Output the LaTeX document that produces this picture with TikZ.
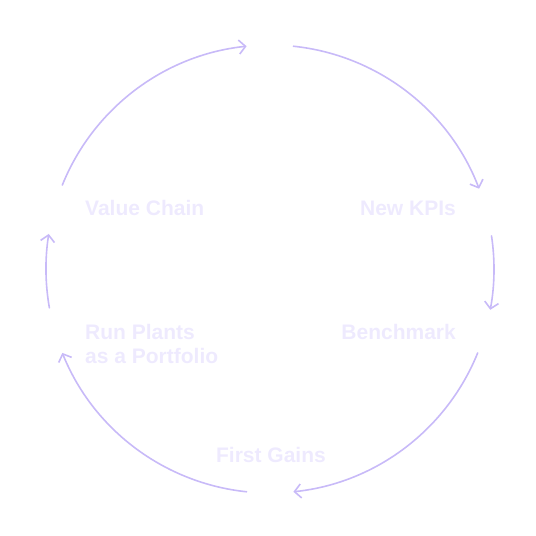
\documentclass[tikz,border=0pt]{standalone}
\usepackage{fontspec}
\setmainfont{Liberation Sans}
\usepackage{xcolor}
\usepackage{tikz}
\usetikzlibrary{positioning, arrows.meta}

\definecolor{cyclearc}{RGB}{200,186,248}
\definecolor{cyclelabel}{RGB}{238,234,254}

\tikzset{
  cyclestep/.style={draw=cyclearc, line width=1.6pt, line cap=round,
    -{Straight Barb[length=6.5pt, width=14pt, line width=1.6pt]}},
  steplabel/.style={text=cyclelabel, font=\bfseries\fontsize{21}{24}\selectfont, inner sep=0pt}
}

\begin{document}
\begin{tikzpicture}[x=1pt, y=1pt]
        \useasboundingbox (-270,-267) rectangle (266,269);

        % Cycle
        \foreach \s/\e in {84/21, 8.5/-10.5, -22/-84, -96/-158, 190/171, 158/96} {
          \draw[cyclestep] (\s:224) arc[start angle=\s, end angle=\e, radius=224];
        }

        % Steps
        \node[steplabel, anchor=base west] (value) at (-185,53) {Value Chain};
        \node[steplabel, anchor=base east] (kpis) at (186,53) {New KPIs};
        \node[steplabel, anchor=base east] (bench) at (186,-70) {Benchmark};
        \node[steplabel, anchor=base] (gains) at (1,-193) {First Gains};
        \node[steplabel, anchor=base west, align=left] (plants) at (-185,-94) {Run Plants\\as a Portfolio};
      \end{tikzpicture}
\end{document}
